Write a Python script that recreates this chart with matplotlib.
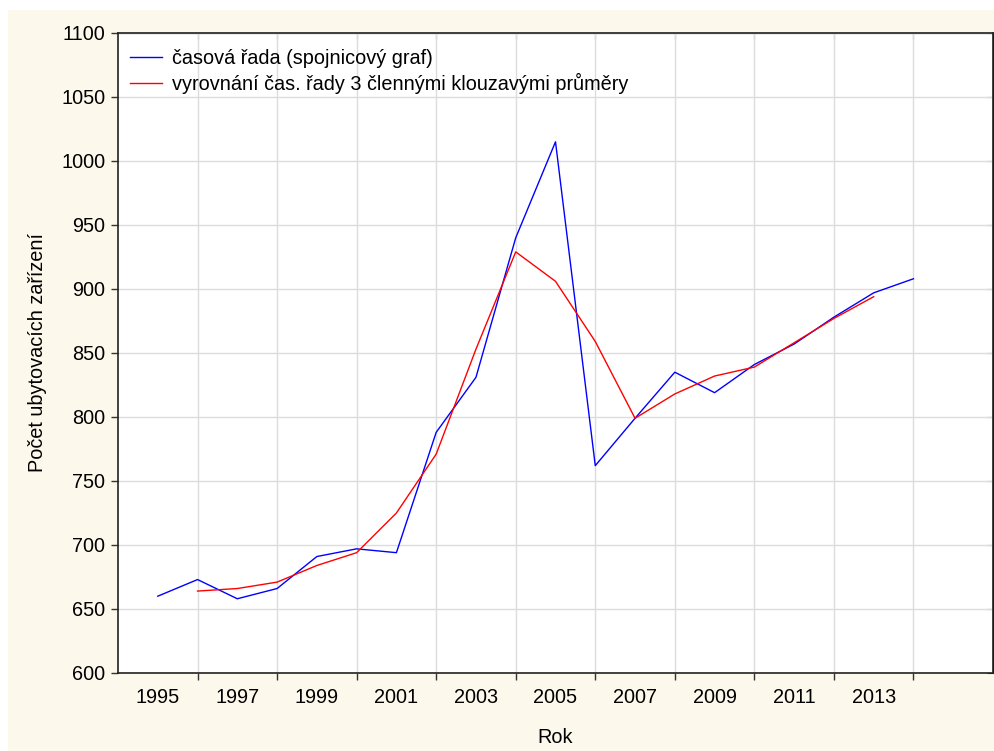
import matplotlib
matplotlib.use("Agg")
import matplotlib.pyplot as plt
from matplotlib.patches import Rectangle

plt.rcParams['font.family'] = ['Liberation Sans', 'DejaVu Sans']

years = list(range(1995, 2015))
pocet = [660, 673, 658, 666, 691, 697, 694, 788, 831, 940,
         1015, 762, 799, 835, 819, 841, 857, 878, 897, 908]

ma_years = list(range(1996, 2014))
ma_pocet = [664, 666, 671, 684, 694, 725, 771, 853, 929, 906,
            859, 799, 818, 832, 839, 858, 877, 894]

grid_years = list(range(1996, 2015, 2))
label_years = list(range(1995, 2014, 2))

bg = '#FDF8EC'
fs = 14.3

fig = plt.figure(figsize=(9.95, 7.51), dpi=100)
fig.patches.append(Rectangle((8 / 995, 0), 1 - 8 / 995, 1 - 10 / 751,
                             transform=fig.transFigure, facecolor=bg,
                             edgecolor='none', zorder=-10))

ax = fig.add_axes([118 / 995, 1 - 673 / 751, (993 - 118) / 995, (673 - 33) / 751])
ax.set_facecolor('white')

ax.plot(years, pocet, color='#0000FF', lw=1.0, label='časová řada (spojnicový graf)')
ax.plot(ma_years, ma_pocet, color='#FF0000', lw=1.0,
        label='vyrovnání čas. řady 3 člennými klouzavými průměry')

ax.set_xlim(1994, 2016)
ax.set_ylim(600, 1100)
ax.set_yticks(range(600, 1101, 50))
ax.set_xticks(grid_years)
ax.set_xticklabels([])
ax.set_xticks(label_years, minor=True)
ax.set_xticklabels([str(y) for y in label_years], minor=True)
ax.tick_params(axis='x', which='minor', length=0, pad=11, labelsize=fs)
ax.tick_params(axis='both', which='major', direction='out', length=5,
               width=1, color='#333333', labelsize=fs, pad=4)

ax.grid(True, which='major', color='#DCDCDC', lw=1.0)
ax.set_axisbelow(True)

for s in ax.spines.values():
    s.set_color('#222222')
    s.set_linewidth(1.2)

# inward ticks on top and right
top = ax.secondary_xaxis('top')
top.set_xticks(grid_years)
top.set_xticklabels([])
top.tick_params(direction='in', length=4, color='#333333')
right = ax.secondary_yaxis('right')
right.set_yticks(range(600, 1101, 50))
right.set_yticklabels([])
right.tick_params(direction='in', length=4, color='#333333')

ax.set_xlabel('Rok', fontsize=fs, labelpad=15)
ax.set_ylabel('Počet ubytovacích zařízení', fontsize=fs, labelpad=10)

leg = ax.legend(loc='upper left', bbox_to_anchor=(0, 0.993), frameon=False,
                fontsize=fs, handlelength=1.6, handletextpad=0.5,
                labelspacing=0.25, borderaxespad=0.2)

fig.savefig('out.png', dpi=100)
